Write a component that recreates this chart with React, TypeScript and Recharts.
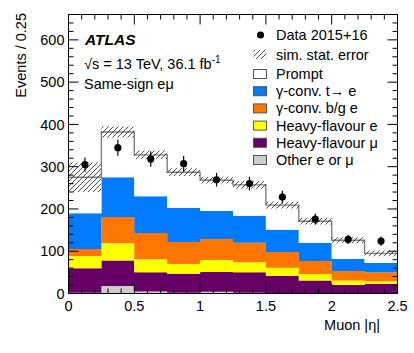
import React from "react"
import { ComposedChart, Area, Scatter, ErrorBar, XAxis, YAxis } from "recharts"

const binEdges = [0, 0.25, 0.5, 0.75, 1, 1.25, 1.5, 1.75, 2, 2.25, 2.5]

// stacked contributions per muon |eta| bin, bottom to top
const otherEMu = [2, 18, 5, 2, 4, 2, 1, 1, 1, 1]
const heavyFlavourMu = [58, 60, 45, 45, 47, 48, 41, 30, 19, 22]
const heavyFlavourE = [29, 41, 31, 23, 28, 24, 19, 15, 11, 6]
const convBgE = [16, 62, 62, 52, 50, 46, 37, 31, 22, 21]
const convTE = [85, 94, 87, 81, 66, 64, 53, 43, 29, 22]
const prompt = [85, 107, 98, 84, 73, 73, 58, 51, 44, 23]
const simStatErr = [35, 13, 10, 9, 8, 9, 8, 8, 7, 7]

// data 2015+16
const dataCounts = [305, 345, 318, 307, 269, 260, 228, 176, 128, 124]
const dataErr = [17, 19, 18, 18, 16, 16, 15, 13, 11, 11]

const yMajor = [0, 100, 200, 300, 400, 500, 600]
const xMajor = [0, 0.5, 1, 1.5, 2, 2.5]
const xMajorLabels = ["0", "0.5", "1", "1.5", "2", "2.5"]
const yTicks = Array.from({ length: 34 }, (_, i) => i * 20)
const xTicks = Array.from({ length: 26 }, (_, i) => i / 10)

const FONT = "'Liberation Sans', Arial, Helvetica, sans-serif"
const FS = 14.5

const stack = [
  { key: "other", values: otherEMu, fill: "#cccccc", label: "Other e or \u03bc" },
  { key: "hfMu", values: heavyFlavourMu, fill: "#660066", label: "Heavy-flavour \u03bc" },
  { key: "hfE", values: heavyFlavourE, fill: "#ffff00", label: "Heavy-flavour e" },
  { key: "convBg", values: convBgE, fill: "#ff7700", label: "\u03b3-conv. b/g e" },
  { key: "convT", values: convTE, fill: "#007bff", label: "\u03b3-conv. t\u2192 e" },
  { key: "prompt", values: prompt, fill: "#ffffff", label: "Prompt" },
]

// step histogram rows at the bin edges (last edge repeats the last bin)
const rows = binEdges.map((x, i) => {
  const j = Math.min(i, binEdges.length - 2)
  const row: any = { x }
  let total = 0
  stack.forEach((s) => {
    row[s.key] = s.values[j]
    total += s.values[j]
  })
  row.band = [total - simStatErr[j], total + simStatErr[j]]
  return row
})

const points = dataCounts.map((y, i) => ({
  x: (binEdges[i] + binEdges[i + 1]) / 2,
  y,
  err: dataErr[i],
}))

const near = (v: number, list: number[]) => list.findIndex((m) => Math.abs(m - v) < 1e-6)

function LeftTick(props: any) {
  const { x, y, payload } = props
  const major = near(payload.value, yMajor) >= 0
  return (
    <g>
      <line x1={x} x2={x + (major ? 10 : 5)} y1={y} y2={y} stroke="#000" />
      {major && (
        <text x={x - 4} y={y} dy="0.36em" textAnchor="end" fontSize={FS} fontFamily={FONT} fill="#000">
          {payload.value}
        </text>
      )}
    </g>
  )
}

function RightTick(props: any) {
  const { x, y, payload } = props
  const major = near(payload.value, yMajor) >= 0
  return <line x1={x} x2={x - (major ? 10 : 5)} y1={y} y2={y} stroke="#000" />
}

function BottomTick(props: any) {
  const { x, y, payload } = props
  const k = near(payload.value, xMajor)
  return (
    <g>
      <line x1={x} x2={x} y1={y} y2={y - (k >= 0 ? 10 : 5)} stroke="#000" />
      {k >= 0 && (
        <text x={x} y={y + 17} textAnchor="middle" fontSize={FS} fontFamily={FONT} fill="#000">
          {xMajorLabels[k]}
        </text>
      )}
    </g>
  )
}

function TopTick(props: any) {
  const { x, y, payload } = props
  const major = near(payload.value, xMajor) >= 0
  return <line x1={x} x2={x} y1={y} y2={y + (major ? 10 : 5)} stroke="#000" />
}

const dot = (p: any) => <circle cx={p.cx} cy={p.cy} r={3.6} fill="#000" />

const legendRows = [
  { y: 40, kind: "dot", label: "Data 2015+16" },
  { y: 59.5, kind: "hatch", label: "sim. stat. error" },
  ...stack
    .slice()
    .reverse()
    .map((s, i) => ({ y: 79 + i * 17.2, kind: s.fill, label: s.label })),
]

export default function App() {
  return (
    <div style={{ position: "absolute", left: 0, top: 0, width: 414, height: 353, background: "#fff" }}>
      <ComposedChart
        width={414}
        height={353}
        data={rows}
        margin={{ top: 13.5, right: 15.5, bottom: 0, left: 0 }}
      >
        <defs>
          <pattern id="hatch" width="5" height="5" patternUnits="userSpaceOnUse">
            <path d="M-1,1 l2,-2 M0,5 l5,-5 M4,6 l2,-2" stroke="#222" strokeWidth={0.8} />
          </pattern>
        </defs>
        <XAxis
          dataKey="x"
          type="number"
          domain={[0, 2.5]}
          allowDataOverflow
          ticks={xTicks}
          interval={0}
          height={59.5}
          tickSize={0}
          tickMargin={0}
          tickLine={false}
          axisLine={{ stroke: "#000" }}
          tick={<BottomTick />}
        />
        <XAxis
          xAxisId="top"
          orientation="top"
          dataKey="x"
          type="number"
          domain={[0, 2.5]}
          allowDataOverflow
          ticks={xTicks}
          interval={0}
          height={1}
          tickSize={0}
          tickMargin={0}
          tickLine={false}
          axisLine={{ stroke: "#000" }}
          tick={<TopTick />}
        />
        <YAxis
          type="number"
          domain={[0, 660]}
          allowDataOverflow
          ticks={yTicks}
          interval={0}
          width={68.5}
          tickSize={0}
          tickMargin={0}
          tickLine={false}
          axisLine={{ stroke: "#000" }}
          tick={<LeftTick />}
        />
        <YAxis
          yAxisId="right"
          orientation="right"
          type="number"
          domain={[0, 660]}
          allowDataOverflow
          ticks={yTicks}
          interval={0}
          width={1}
          tickSize={0}
          tickMargin={0}
          tickLine={false}
          axisLine={{ stroke: "#000" }}
          tick={<RightTick />}
        />
        {stack.map((s) => (
          <Area
            key={s.key}
            dataKey={s.key}
            stackId="mc"
            type="stepAfter"
            fill={s.fill}
            fillOpacity={1}
            stroke={s.key === "prompt" ? "#808080" : "none"}
            strokeWidth={1.4}
            isAnimationActive={false}
          />
        ))}
        <Area
          dataKey="band"
          type="stepAfter"
          fill="url(#hatch)"
          fillOpacity={1}
          stroke="none"
          isAnimationActive={false}
        />
        <Scatter data={points} dataKey="y" shape={dot} isAnimationActive={false}>
          <ErrorBar dataKey="err" direction="y" width={0} stroke="#000" strokeWidth={1.2} />
        </Scatter>
      </ComposedChart>

      <svg
        width={414}
        height={353}
        style={{ position: "absolute", left: 0, top: 0, pointerEvents: "none" }}
        fontFamily={FONT}
        fontSize={FS}
      >
        <defs>
          <pattern id="hatchLeg" width="5" height="5" patternUnits="userSpaceOnUse">
            <path d="M-1,1 l2,-2 M0,5 l5,-5 M4,6 l2,-2" stroke="#222" strokeWidth={0.8} />
          </pattern>
        </defs>
        <text x={21} y={13} transform="rotate(-90 21 13)" textAnchor="end" dy="0.36em">
          Events / 0.25
        </text>
        <text x={380} y={330} textAnchor="end">
          Muon |{"\u03b7"}|
        </text>
        <text x={85} y={45} fontWeight="bold" fontStyle="italic" fontSize={15.5}>
          ATLAS
        </text>
        <text x={84} y={69}>
          {"\u221as = 13 TeV, 36.1 fb"}
          <tspan dy={-6} fontSize={10}>
            -1
          </tspan>
        </text>
        <text x={84} y={89}>
          Same-sign e{"\u03bc"}
        </text>
        {legendRows.map((r) => (
          <g key={r.label}>
            {r.kind === "dot" ? (
              <circle cx={260.5} cy={r.y - 5} r={3.6} fill="#000" />
            ) : (
              <rect
                x={253.5}
                y={r.y - 9.5}
                width={13}
                height={9}
                fill={r.kind === "hatch" ? "url(#hatchLeg)" : r.kind}
                stroke={r.kind === "hatch" ? "none" : "#555"}
                strokeWidth={1}
              />
            )}
            <text x={276} y={r.y}>
              {r.label}
            </text>
          </g>
        ))}
      </svg>
    </div>
  )
}
